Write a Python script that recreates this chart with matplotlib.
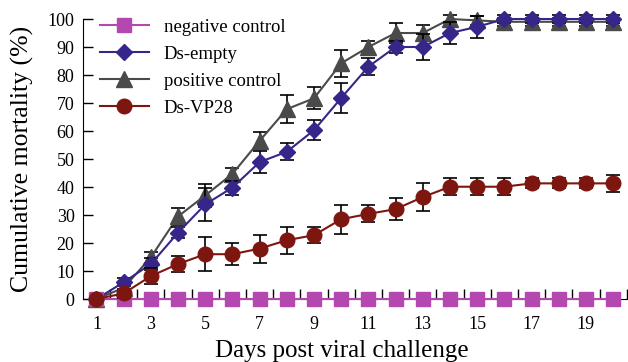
import matplotlib
matplotlib.use("Agg")
import matplotlib.pyplot as plt
from matplotlib.lines import Line2D
import numpy as np

days = list(range(1, 21))
neg = [0]*20
ds_empty = [0, 6, 12.5, 23.7, 33.8, 39.8, 48.9, 52.6, 60.3, 71.8, 83, 90, 90, 95, 97.2, 100, 100, 100, 100, 100]
ds_empty_err = [0, 1.5, 2, 2, 6, 2.5, 4, 3, 3.5, 5.4, 3, 2, 4.8, 4, 4, 1.5, 1.5, 1.5, 1.5, 1.5]
pos = [0, 4, 14.9, 29.5, 37, 44.7, 56.5, 67.8, 71.7, 84.2, 90, 95, 95, 100, 99.5, 99, 99, 99, 99, 99]
pos_err = [0, 1.5, 2, 3, 4, 2, 3, 5, 4, 4.9, 2, 3.7, 3, 1.5, 1.5, 1.5, 1.5, 1.5, 1.5, 1.5]
vp28 = [0, 2, 8.2, 12.5, 16, 16, 18, 21, 22.8, 28.5, 30.4, 32.1, 36.4, 40.1, 40.1, 40.1, 41.3, 41.3, 41.3, 41.3]
vp28_err = [0, 1.5, 3, 2.8, 6, 4, 5, 4.8, 2.8, 5.2, 3, 4, 5, 3, 3, 3, 1.8, 1.8, 1.8, 3.1]
xtick_labels = [str(d) for d in range(1, 21, 2)]
series_names = ['negative control', 'Ds-empty', 'positive control', 'Ds-VP28']

plt.rcParams['font.family'] = ['Liberation Serif', 'DejaVu Serif']

fig = plt.figure(figsize=(6.28, 3.62), dpi=100)
ax = fig.add_axes([0.132, 0.174, 0.866, 0.7735])

c_neg = '#B548B0'
c_ds = '#37258A'
c_pos = '#4A4A4A'
c_vp = '#7E1610'
ebkw = dict(ecolor='black', elinewidth=1.2, capsize=5, capthick=1.2)

ax.errorbar(days, pos, yerr=pos_err, color=c_pos, marker='^', ms=11, lw=1.5,
            zorder=3, clip_on=False, **ebkw)
ax.errorbar(days, ds_empty, yerr=ds_empty_err, color=c_ds, marker='D', ms=8.5, lw=1.5,
            zorder=4, clip_on=False, **ebkw)
ax.errorbar(days, vp28, yerr=vp28_err, color=c_vp, marker='o', ms=10.5, lw=1.5,
            zorder=6, clip_on=False, **ebkw)
ax.plot(days, neg, color=c_neg, marker='s', ms=9.5, lw=1.5, zorder=5, clip_on=False)

ax.set_xlim(0.5, 20.5)
ax.set_ylim(0, 100)
ax.spines['top'].set_visible(False)
ax.spines['right'].set_visible(False)
ax.set_xticks(range(1, 21, 2))
ax.set_xticklabels(xtick_labels)
ax.set_xticks(np.arange(1.5, 20.6, 1), minor=True)
ax.tick_params(axis='x', which='major', length=0, labelsize=13, pad=12)
ax.tick_params(axis='x', which='minor', direction='in', length=7, width=1)
ax.set_yticks(range(0, 101, 10))
ax.tick_params(axis='y', direction='in', length=7, width=1, labelsize=13, pad=6)
ax.set_xlabel('Days post viral challenge', fontsize=18)
ax.xaxis.set_label_coords(0.476, -0.145, transform=ax.transAxes)
ax.xaxis.label.set_va('top')
ax.set_ylabel('Cumulative mortality (%)', fontsize=18.5, labelpad=10)

handles = [
    Line2D([], [], color=c_neg, marker='s', ms=9.5, lw=1.5),
    Line2D([], [], color=c_ds, marker='D', ms=8.5, lw=1.5),
    Line2D([], [], color=c_pos, marker='^', ms=11, lw=1.5),
    Line2D([], [], color=c_vp, marker='o', ms=10.5, lw=1.5),
]
fig.legend(handles, series_names, loc='upper left', frameon=False,
           fontsize=13.5, handlelength=2.6, labelspacing=0.52, borderpad=0,
           borderaxespad=0, bbox_to_anchor=(0.159, 0.948), handletextpad=0.8)

fig.savefig('out.png', dpi=100)
